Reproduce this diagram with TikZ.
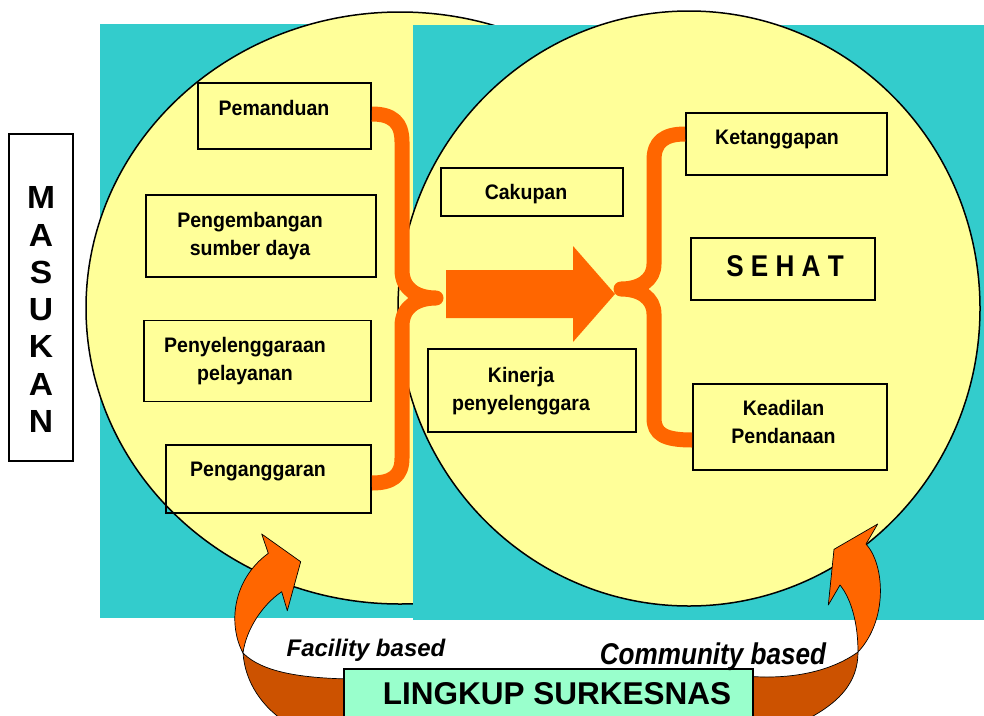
\documentclass[tikz,border=0pt]{standalone}
\usepackage{fontspec}
\setmainfont{Liberation Sans}
\newfontfamily\boxfont{Liberation Sans}[FakeStretch=0.93]
\newfontfamily\narrowfont{Liberation Sans}[FakeStretch=0.87]
\newfontfamily\widefont{Liberation Sans}[FakeStretch=1.05]
\usetikzlibrary{calc}
\definecolor{tealbg}{HTML}{33CCCC}
\definecolor{yel}{HTML}{FFFF99}
\definecolor{org}{HTML}{FF6600}
\definecolor{dorg}{HTML}{CC5200}
\definecolor{mint}{HTML}{99FFCC}
\begin{document}
\begin{tikzpicture}[x=1pt,y=-1pt,
  panel/.style={fill=tealbg},
  oval/.style={fill=yel,draw=black,line width=1.5pt},
  box/.style={draw=black,line width=1.8pt,inner sep=0pt},
  lbl/.style={font=\boxfont\bfseries\fontsize{21}{28.5}\selectfont,align=center,inner sep=0pt},
  brace/.style={draw=org,line width=15pt,line join=round},
  lit/.style={fill=org,draw=black,line width=0.7pt,line join=round},
  dark/.style={fill=dorg,draw=black,line width=0.7pt,line join=round}]
\useasboundingbox (0,0) rectangle (984,715);
\clip (0,0) rectangle (984,715);
% panels and ellipses
\fill[panel] (100,24) rectangle (413,618);
\draw[oval] (400,308) ellipse [x radius=314pt, y radius=296pt];
\fill[panel] (413,25) rectangle (984,620);
\draw[oval] (689,308.5) ellipse [x radius=291pt, y radius=297.5pt];
% boxes (left)
\node[box,minimum width=173pt,minimum height=66pt] (pemanduan) at (284.5,116) {};
\node[box,minimum width=230pt,minimum height=82pt] (pengembangan) at (261,236) {};
\node[box,minimum width=227pt,minimum height=81pt] (penyelenggaraan) at (257.5,361) {};
\node[box,minimum width=205pt,minimum height=68pt] (penganggaran) at (268.5,479) {};
% boxes (middle)
\node[box,minimum width=182pt,minimum height=48pt] (cakupan) at (532,192) {};
\node[box,minimum width=208pt,minimum height=83pt] (kinerja) at (532,390.5) {};
% boxes (right)
\node[box,minimum width=201pt,minimum height=62pt] (ketang) at (786.5,144) {};
\node[box,minimum width=184pt,minimum height=62pt] (sehat) at (783,269) {};
\node[box,minimum width=194pt,minimum height=86pt] (keadilan) at (790,427) {};
% texts
\node[lbl] (tpemanduan) at (274,108) {Pemanduan};
\node[lbl] (tpengembangan) at (250,236) {Pengembangan\\sumber daya};
\node[lbl] (tpenyelenggaraan) at (245,361) {Penyelenggaraan\\pelayanan};
\node[lbl] (tpenganggaran) at (258,471) {Penganggaran};
\node[lbl] (tcakupan) at (526,194) {Cakupan};
\node[lbl] (tkinerja) at (521,391) {Kinerja\\penyelenggara};
\node[lbl] (tketang) at (777,139) {Ketanggapan};
\node[lbl,font=\narrowfont\bfseries\fontsize{30}{34}\selectfont] (tsehat) at (785,266) {S E H A T};
\node[lbl] (tkeadilan) at (783.5,422) {Keadilan\\Pendanaan};
% braces
\coordinate (ltip) at (436,298);
\coordinate (rtip) at (621,289);
\draw[brace] ([yshift=2pt]pemanduan.east) .. controls (392,114) and (402,122) .. (402,142)
  -- (402,270) .. controls (402,290) and (418,298) .. (ltip)
  .. controls (418,298) and (402,306) .. (402,326)
  -- (402,458) .. controls (402,476) and (392,483) .. ([yshift=-4pt]penganggaran.east);
\draw[brace] ([yshift=10pt]ketang.west) .. controls (664,134) and (654,142) .. (654,160)
  -- (654,264) .. controls (654,280) and (640,289) .. (rtip)
  .. controls (640,289) and (654,298) .. (654,314)
  -- (654,418) .. controls (654,434) and (664,440) .. ([yshift=-13pt]keadilan.west);
% big arrow
\fill[org] (446,270) -- (573,270) -- (573,246) -- (615,294) -- (573,342) -- (573,318) -- (446,318) -- cycle;
% curved arrow left
\draw[dark] (243,653) .. controls (262,672) and (300,678) .. (350,679) -- (350,725) -- (290,725)
  .. controls (262,708) and (245,682) .. (243,653) -- cycle;
\draw[lit] (261.7,534) -- (300.7,561.7) -- (287.3,610.7) -- (281.7,591.7)
  .. controls (262,605) and (246,630) .. (243,653)
  .. controls (228,625) and (232,580) .. (268.3,553.3) -- cycle;
% curved arrow right
\draw[dark] (858,652) .. controls (830,672) and (790,680) .. (745,676) -- (745,725) -- (795,725)
  .. controls (840,705) and (858,682) .. (858,652) -- cycle;
\draw[lit] (877.7,524) -- (866,544) .. controls (885,565) and (888,620) .. (858,652)
  .. controls (858,625) and (852,600) .. (840,585) -- (828.3,605) -- (834,549.3) -- cycle;
% MASUKAN
\node[draw=black,fill=white,line width=1.8pt,minimum width=64pt,minimum height=327pt,inner sep=0pt] (masukanbox) at (41,297.5) {};
\node[lbl,font=\widefont\bfseries\fontsize{32}{37.3}\selectfont] (masukan) at (41,309.6) {M\\A\\S\\U\\K\\A\\N};
% LINGKUP
\node[draw=black,fill=mint,line width=1.5pt,minimum width=409pt,minimum height=72pt,inner sep=0pt,anchor=north west] (lingkupbox) at (343,668) {};
\node[lbl,font=\bfseries\fontsize{31.5}{36}\selectfont] (lingkup) at (557,694) {LINGKUP SURKESNAS};
% labels
\node[lbl,font=\bfseries\itshape\fontsize{24}{28}\selectfont] (facility) at (366,650) {Facility based};
\node[lbl,font=\narrowfont\bfseries\itshape\fontsize{30}{34}\selectfont] (community) at (713,657) {Community based};
\end{tikzpicture}
\end{document}
